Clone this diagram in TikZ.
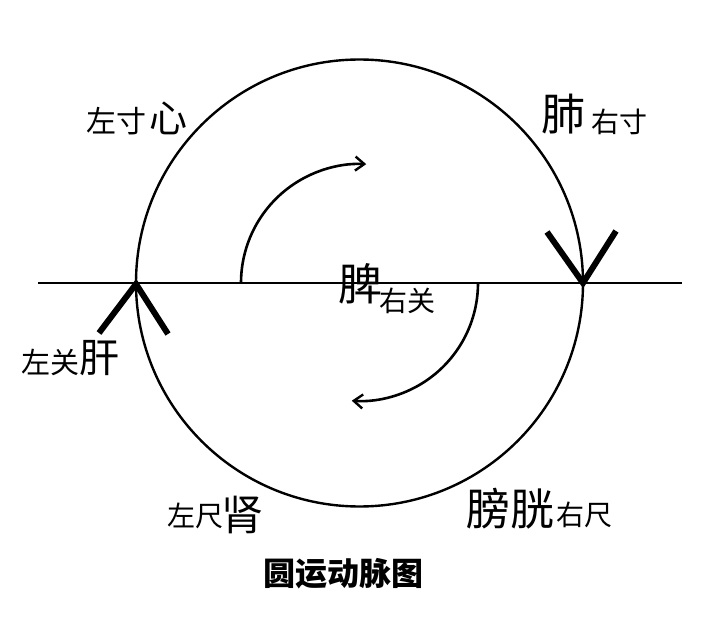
\documentclass[tikz,border=0pt]{standalone}
\usepackage{fontspec}
\newfontfamily\cjk{Noto Sans CJK SC}
\usetikzlibrary{arrows.meta}
\tikzset{
  lbl/.style={inner sep=0pt, anchor=base west, font=\cjk},
  chev/.style={line width=6pt, line join=miter, line cap=butt},
  flow/.style={line width=2.6pt, -{Straight Barb[length=9pt,width=14pt,line width=2.4pt]}}
}
\begin{document}
\begin{tikzpicture}[x=1pt,y=-1pt]
\useasboundingbox (0,0) rectangle (720,631);
\fill[white] (0,0) rectangle (720,631);
% main circle and axis
\draw[line width=2.4pt] (359.5,283) circle[radius=223.5];
\draw[line width=2pt] (38,283) -- (682,283);
% chevrons
\draw[chev] (547,232) -- (583,283) -- (616,231);
\draw[chev] (99,333) -- (136,284) -- (168,334);
% inner arrows
\draw[flow] (241,283) arc[start angle=180, end angle=273, radius=119];
\draw[flow] (478,283) arc[start angle=0, end angle=94, radius=118];
% labels
\node[lbl, font=\cjk\fontsize{30}{30}\selectfont] (zc) at (86,133) {左寸};
\node[lbl, font=\cjk\fontsize{38}{38}\selectfont] (xin) at (149,133) {心};
\node[lbl, font=\cjk\fontsize{44}{44}\selectfont] (fei) at (541,131) {肺};
\node[lbl, font=\cjk\fontsize{28}{28}\selectfont] (yc) at (591,133) {右寸};
\node[lbl, font=\cjk\fontsize{29}{29}\selectfont] (zg) at (21,373) {左关};
\node[lbl, font=\cjk\fontsize{40}{40}\selectfont] (gan) at (79,372) {肝};
\node[lbl, font=\cjk\fontsize{28}{28}\selectfont] (zch) at (167,526) {左尺};
\node[lbl, font=\cjk\fontsize{42}{42}\selectfont] (shen) at (221,530) {肾};
\node[lbl, font=\cjk\fontsize{44}{44}\selectfont] (pg) at (466,525) {膀胱};
\node[lbl, font=\cjk\fontsize{28}{28}\selectfont] (ych) at (556,525) {右尺};
\node[lbl, font=\cjk\fontsize{44}{44}\selectfont] (pi) at (338,300) {脾};
\node[lbl, font=\cjk\fontsize{28}{28}\selectfont] (yg) at (379,311) {右关};
\node[inner sep=0pt, anchor=base, font=\cjk\bfseries\fontsize{32}{32}\selectfont] (title) at (343,585) {圆运动脉图};
\end{tikzpicture}
\end{document}
